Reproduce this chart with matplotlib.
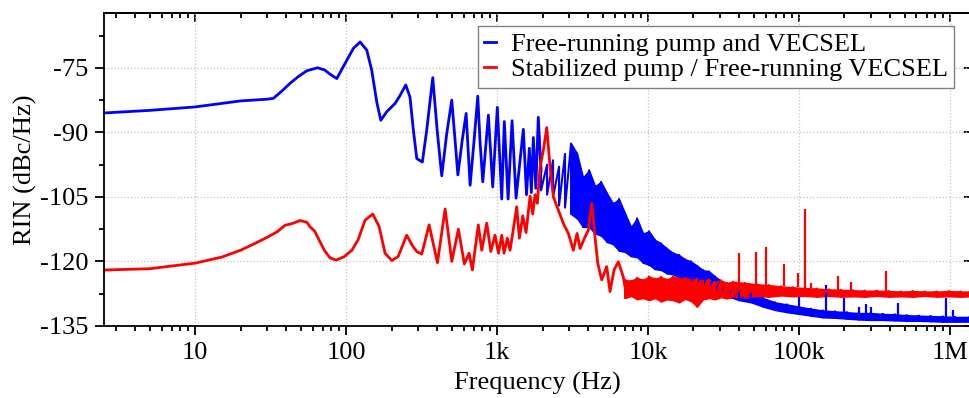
#!/usr/bin/env python3

import matplotlib
matplotlib.use("Agg")
import matplotlib.pyplot as plt
from matplotlib.ticker import LogLocator, FixedLocator, NullFormatter


#####
##### Data
#####

### Free-running pump and VECSEL: smooth / resolved part
blue_freq = [2.5, 5, 10, 20, 30, 33, 37, 42.6, 48, 54.9, 64.6, 72, 78.4, 86.8,
             98.4, 111.7, 123.8, 137.1, 147.9, 159.7, 169.8, 186, 211, 228,
             248.5, 265, 279, 294, 320, 342, 375, 401, 430, 463, 501, 527, 550,
             587, 624, 643, 663, 704, 745, 771, 804, 876, 936, 1004, 1074, 1117,
             1183, 1257, 1336, 1493, 1567, 1636, 1687, 1739, 1806, 1876, 1956]
blue_db = [-85.5, -84.9, -84.1, -82.7, -82.3, -82.1, -80.6, -78.6, -77.1, -75.7,
           -75.0, -75.5, -76.5, -77.5, -74.0, -70.5, -69.0, -70.9, -75.6, -83.0,
           -87.2, -85.2, -83.3, -81.4, -79.0, -81.8, -89.5, -96.1, -96.9, -89.5,
           -77.3, -89.5, -100.1, -90.6, -82.5, -91.8, -99.9, -92.0, -85.6, -94.0,
           -102.3, -92.0, -81.6, -92.0, -101.5, -86.0, -102.7, -84.2, -105.5,
           -87.5, -105.5, -87.3, -105.3, -89.3, -104.5, -93.7, -104.0, -91.2,
           -103.0, -86.5, -99.0]

### Free-running pump and VECSEL: noise band (upper / lower edge)
blue_band_freq = [1956, 2144, 2349, 2574, 2820, 3092, 3387, 3711, 4068, 4457,
                  4883, 5353, 5864, 6426, 7041, 7717, 8456, 9268, 10153, 11127,
                  12193, 13359, 14643, 16045, 17579, 19271, 21115, 23135, 25351,
                  27777, 30434, 33361, 36553, 40051,
                  48094, 57775, 69388, 83302, 100000, 120100, 144200, 173200,
                  207900, 249700, 299800, 360000, 432300, 519000, 623300, 748500,
                  898700, 1.079e6, 1.38e6]
blue_band_hi = [-95.0, -97.5, -96.5, -98.0, -95.0, -92.6, -94.9, -100.5, -98.8,
                -102.5, -101.5, -104.2, -106.5, -105.5, -108.8, -112.0, -110.0,
                -113.5, -113.0, -115.0, -115.8, -117.0, -118.0, -118.5, -119.5,
                -120.0, -121.0, -122.0, -122.3, -123.5, -124.5, -125.3, -126.0,
                -126.5,
                -127.5, -128.5, -129.5, -130.0, -130.5, -131.0, -131.4, -131.6,
                -131.8, -132.0, -132.0, -132.2, -132.3, -132.5, -132.6, -132.7,
                -132.8, -132.9, -132.9]
blue_band_lo = [-103.5, -104.5, -105.0, -107.0, -107.5, -109.0, -110.0, -112.0,
                -112.0, -113.5, -114.0, -115.5, -116.0, -117.5, -117.8, -118.8,
                -119.0, -120.3, -120.8, -121.8, -122.0, -122.8, -123.0, -123.8,
                -124.0, -124.8, -125.0, -125.5, -125.8, -126.8, -127.5, -128.2,
                -128.5, -129.0,
                -129.5, -130.5, -131.3, -131.8, -132.2, -132.6, -133.0, -133.1,
                -133.3, -133.5, -133.6, -133.6, -133.7, -133.8, -133.8, -133.9,
                -134.0, -134.0, -134.0]

blue_spike_freq = [100000, 150300, 199500, 249600, 276500, 299800, 450800, 937000, 1.052e6]
blue_spike_db = [-128.2, -125.5, -128.6, -130.7, -129.9, -130.7, -129.7, -128.6, -131.3]

### Stabilized pump / Free-running VECSEL: smooth / resolved part
red_freq = [2.5, 5, 10, 15, 20, 25, 30, 35, 39.4, 44, 49.5, 55, 57.8, 62, 67.3,
            72, 78.4, 86.1, 97, 109.2, 120, 133.6, 150.2, 165.5, 181.2, 201, 221,
            252, 273.5, 294, 317, 354.7, 402.8, 452.9, 501.4, 554.5, 607.4, 652.7,
            686, 751.2, 791.6, 854.4, 908.6, 970, 1021, 1075, 1112, 1170, 1219,
            1282, 1350, 1405, 1480, 1556, 1655, 1723, 1786, 1849, 1928, 2027,
            2134, 2244, 2360, 2548, 2750, 2967, 3202, 3388, 3546, 3827, 4027,
            4237, 4455, 4644, 4935, 5323, 5600, 5954, 6357, 6858, 7041]
red_db = [-122.0, -121.7, -120.4, -119.0, -117.4, -115.8, -114.4, -113.1, -111.6,
          -111.2, -110.5, -110.9, -112.0, -113.0, -115.5, -117.5, -119.2, -119.7,
          -118.9, -117.4, -115.0, -110.4, -109.0, -111.9, -118.1, -119.8, -118.9,
          -113.9, -116.2, -117.7, -118.3, -111.5, -120.3, -107.8, -120.0, -112.5,
          -120.6, -118.1, -122.0, -111.5, -117.4, -111.1, -117.7, -113.9, -118.1,
          -113.9, -118.1, -114.6, -117.4, -112.5, -107.3, -114.6, -109.4, -113.3,
          -104.8, -109.0, -104.5, -106.5, -98.0, -94.1, -88.9, -98.0, -105.0,
          -108.1, -111.2, -113.5, -117.4, -113.5, -117.0, -114.3, -112.7, -106.5,
          -114.3, -120.4, -124.3, -121.2, -127.0, -122.0, -120.1, -123.6, -126.0]

### Stabilized pump / Free-running VECSEL: noise band (upper / lower edge)
red_band_freq = [7041, 7717, 8456, 9268, 10153, 11127, 12193, 13359, 14643,
                 16045, 17579, 19271, 21115, 23135, 25351, 27777, 30434, 33361,
                 36553, 43891, 52728, 63301, 76028, 91270, 109570, 131600,
                 158000, 189700, 227800, 273600, 328500, 394500, 473600, 568900,
                 683000, 820100, 984900, 1.183e6, 1.38e6]
red_band_hi = [-124.3, -124.5, -123.8, -124.3, -123.5, -124.0, -123.6, -124.2,
               -123.5, -124.0, -123.8, -124.3, -124.0, -124.5, -124.2, -124.8,
               -124.4, -125.0, -124.7, -125.0, -125.3, -125.5, -125.8, -126.0,
               -126.2, -126.3, -126.5, -126.6, -126.7, -126.8, -126.8, -126.9,
               -127.0, -126.9, -127.0, -127.0, -126.9, -127.0, -127.0]
red_band_lo = [-128.5, -128.0, -128.8, -128.5, -129.0, -128.5, -129.3, -128.8,
               -129.0, -129.5, -128.7, -129.2, -130.5, -128.8, -128.5, -128.8,
               -128.3, -128.6, -128.2, -128.4, -128.0, -128.2, -127.9, -128.1,
               -128.0, -128.2, -128.0, -128.2, -128.1, -128.2, -128.0, -128.2,
               -128.1, -128.2, -128.0, -128.2, -128.1, -128.2, -128.1]

red_spike_freq = [40100, 51600, 60100, 79900, 98000, 109600, 120000, 180300, 219900, 375000]
red_spike_db = [-118.1, -117.9, -116.6, -120.7, -122.6, -107.9, -124.9, -123.4, -124.7, -122.2]

x_ticks = [10, 100, 1e3, 1e4, 1e5, 1e6]
x_tick_labels = ["10", "100", "1k", "10k", "100k", "1M"]
y_ticks = [-135, -120, -105, -90, -75]
y_tick_labels = ["-135", "-120", "-105", "-90", "-75"]
y_minor = [-127.5, -112.5, -97.5, -82.5, -67.5]

labels = ["Free-running pump and VECSEL", "Stabilized pump / Free-running VECSEL"]


#####
##### Global vars
#####

BLUE = "#0000ff"
RED = "#ff0000"
FONT_SIZE = 19
LW = 2.0
FILL_FROM = 3000   # below this the band still shows separate spikes


def init():
    plt.rcParams["font.family"] = ["Liberation Serif", "DejaVu Serif"]
    plt.rcParams["axes.unicode_minus"] = False
    plt.rc("font", size=FONT_SIZE)
    plt.rc("axes", labelsize=FONT_SIZE, linewidth=1.3)
    plt.rc("xtick", labelsize=FONT_SIZE)
    plt.rc("ytick", labelsize=FONT_SIZE)
    plt.rc("legend", fontsize=FONT_SIZE)


def band(ax, freq, lo, hi, color):
    ### noise band: zig-zag between the two edges, solid where it gets dense
    zz_f, zz_v = [], []
    for f, a, b in zip(freq, hi, lo):
        zz_f += [f, f]
        zz_v += [a, b]
    ax.plot(zz_f, zz_v, color=color, lw=1.5)
    idx = [i for i, f in enumerate(freq) if f >= FILL_FROM]
    ax.fill_between([freq[i] for i in idx], [lo[i] for i in idx],
                    [hi[i] for i in idx], color=color, lw=1.0, edgecolor=color)


def spikes(ax, freq, base_freq, base_db, top_db, color):
    ### short vertical spikes sticking out of a noise band
    for f, top in zip(freq, top_db):
        i = min(range(len(base_freq)), key=lambda k: abs(base_freq[k] - f))
        ax.plot([f, f], [base_db[i], top], color=color, lw=1.6, solid_capstyle="butt")


def main():
    init()
    fig = plt.figure(figsize=(9.69, 3.98), dpi=100)
    ax = fig.add_axes([0.1073, 0.181, 0.8947, 0.786])

    ### blue first, red on top where they overlap
    band(ax, blue_band_freq, blue_band_lo, blue_band_hi, BLUE)
    spikes(ax, blue_spike_freq, blue_band_freq, blue_band_lo, blue_spike_db, BLUE)
    l1, = ax.plot(blue_freq, blue_db, color=BLUE, lw=LW)

    band(ax, red_band_freq, red_band_lo, red_band_hi, RED)
    spikes(ax, red_spike_freq, red_band_freq, red_band_hi, red_spike_db, RED)
    l2, = ax.plot(red_freq, red_db, color=RED, lw=LW)

    ### axes
    ax.set_xscale("log")
    ax.set_xlim(2.49, 1.377e6)
    ax.set_ylim(-135, -62.3)

    ax.xaxis.set_major_locator(FixedLocator(x_ticks))
    ax.set_xticklabels(x_tick_labels)
    ax.xaxis.set_minor_locator(LogLocator(base=10, subs=range(2, 10), numticks=20))
    ax.xaxis.set_minor_formatter(NullFormatter())
    ax.set_yticks(y_ticks)
    ax.set_yticklabels(y_tick_labels)
    ax.yaxis.set_minor_locator(FixedLocator(y_minor))

    ax.tick_params(which="both", direction="out", top=False, right=False, width=1.3)
    ax.tick_params(which="major", length=6.5, pad=5)
    ax.tick_params(which="minor", length=3.5)

    ### mirrored ticks pointing inward on top / right
    sec_x = ax.secondary_xaxis("top")
    sec_x.set_xticks(x_ticks)
    sec_x.set_xticklabels([])
    sec_x.xaxis.set_minor_locator(LogLocator(base=10, subs=range(2, 10), numticks=20))
    sec_x.xaxis.set_minor_formatter(NullFormatter())
    sec_x.tick_params(which="both", direction="in", width=1.3)
    sec_x.tick_params(which="major", length=6.5)
    sec_x.tick_params(which="minor", length=3.5)
    sec_y = ax.secondary_yaxis("right")
    sec_y.set_yticks(y_ticks)
    sec_y.set_yticklabels([])
    sec_y.tick_params(which="major", direction="in", length=5, width=1.3)

    ax.grid(which="major", axis="both", linestyle=":", color="#c4c4c4", lw=0.9)
    ax.set_axisbelow(True)

    ax.set_xlabel("Frequency (Hz)", labelpad=6)
    ax.set_ylabel("RIN (dBc/Hz)", labelpad=2)

    leg = ax.legend([l1, l2], labels, loc="upper right", bbox_to_anchor=(0.981, 0.958),
                    borderaxespad=0, fancybox=False, framealpha=1, edgecolor="#808080",
                    handlelength=0.45, handletextpad=0.55, labelspacing=0.05,
                    borderpad=0.25)
    leg.get_frame().set_linewidth(1.0)

    fig.savefig("out.png", dpi=100)
    plt.close()


main()
